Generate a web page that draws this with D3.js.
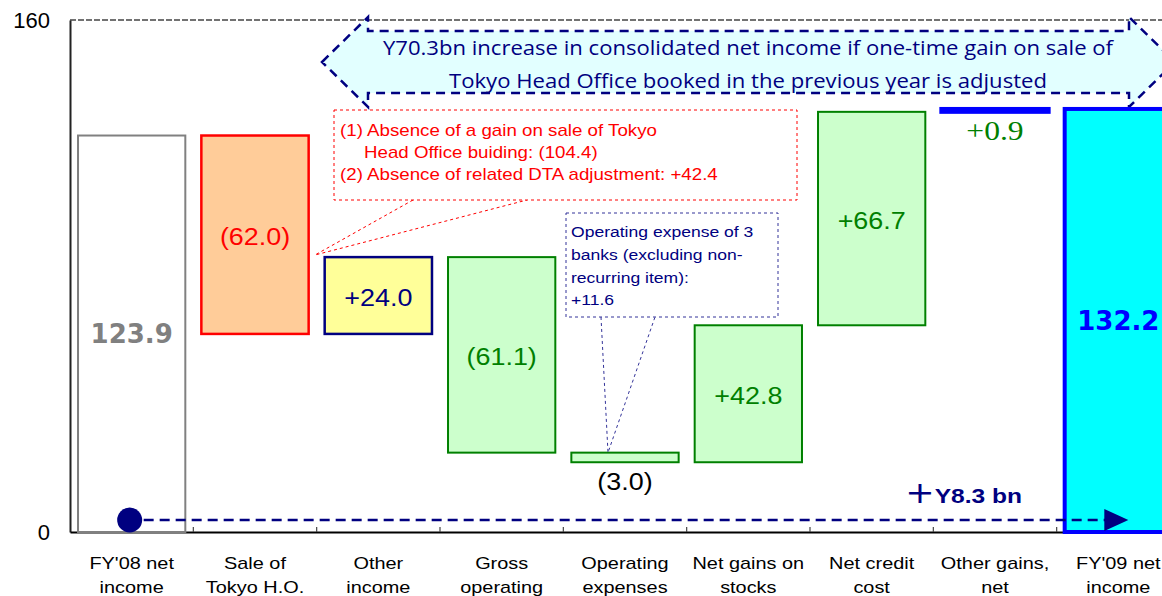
<!DOCTYPE html>
<html>
<head>
<meta charset="utf-8">
<script src="https://cdn.jsdelivr.net/npm/d3@7"></script>
<style>
  body { margin: 0; background: #fff; }
  svg { display: block; }
  text { font-family: "Liberation Sans", Arial, sans-serif; }
</style>
</head>
<body>
<div id="chart"></div>
<script>
// chart data
const categories = [
  ["FY'08 net", "income"],
  ["Sale of", "Tokyo H.O."],
  ["Other", "income"],
  ["Gross", "operating"],
  ["Operating", "expenses"],
  ["Net gains on", "stocks"],
  ["Net credit", "cost"],
  ["Other gains,", "net"],
  ["FY'09 net", "income"]
];
const changes = [123.9, -62.0, 24.0, -61.1, -3.0, 42.8, 66.7, 0.9, 132.2];
const isTotal = [true, false, false, false, false, false, false, false, true];
const valueLabels = ["123.9", "(62.0)", "+24.0", "(61.1)", "(3.0)", "+42.8", "+66.7", "+0.9", "132.2"];
const yTicks = [0, 160];

const arrowNote = [
  "Y70.3bn increase in consolidated net income if one-time gain on sale of",
  "Tokyo Head Office booked in the previous year is adjusted"
];
const redNote = [
  "(1) Absence of a gain on sale of Tokyo",
  "Head Office buiding: (104.4)",
  "(2) Absence of related DTA adjustment: +42.4"
];
const blueNote = ["Operating expense of 3", "banks (excluding non-", "recurring item):", "+11.6"];
const netChange = "Y8.3 bn";

let width = 1162,
  height = 596,
  SX = 1.17; // the original text is a bit wide, stretch it

// how each bar looks
const looks = [
  { fill: '#ffffff', stroke: '#808080', sw: 2, color: '#808080', kind: 'total' },
  { fill: '#FFCC99', stroke: '#FF0000', sw: 2.5, color: '#FF0000' },
  { fill: '#FFFF99', stroke: '#000080', sw: 2.5, color: '#000080' },
  { fill: '#CCFFCC', stroke: '#008000', sw: 2, color: '#008000' },
  { fill: '#CCFFCC', stroke: '#008000', sw: 2, color: '#000000', kind: 'below' },
  { fill: '#CCFFCC', stroke: '#008000', sw: 2, color: '#008000' },
  { fill: '#CCFFCC', stroke: '#008000', sw: 2, color: '#008000' },
  { fill: '#0000FF', stroke: '#0000FF', sw: 4, color: '#008000', kind: 'serif' },
  { fill: '#00FFFF', stroke: '#0000FF', sw: 4, color: '#0000FF', kind: 'total' }
];

// running totals -> bar ends
let run = 0;
let bars = changes.map(function (v, i) {
  if (isTotal[i]) {
    run = v;
    return { i: i, lo: 0, hi: v };
  }
  let start = run;
  run += v;
  return { i: i, lo: Math.min(start, run), hi: Math.max(start, run) };
});

let svg = d3.select('#chart')
  .append('svg')
  .attr('width', width)
  .attr('height', height);

let x = d3.scaleBand()
  .domain(d3.range(categories.length))
  .range([70, 1180])
  .paddingInner(0.13)
  .paddingOuter(0.065);

let y = d3.scaleLinear().domain([0, 160]).range([532, 20]);

//helper for stretched text
function stretched(parent, px, py, lines, opt) {
  let t = parent.append('text')
    .attr('transform', 'translate(' + px + ',' + py + ') scale(' + (opt.sx || SX) + ',1)')
    .attr('text-anchor', opt.anchor || 'middle')
    .style('font-size', opt.size + 'px')
    .style('fill', opt.color || '#000');
  if (opt.family) t.style('font-family', opt.family);
  if (opt.weight) t.style('font-weight', opt.weight);
  lines.forEach(function (line, k) {
    t.append('tspan')
      .attr('x', (opt.indent && opt.indent[k]) ? opt.indent[k] / (opt.sx || SX) : 0)
      .attr('y', k * (opt.lh || 0))
      .attr('dy', '0.35em')
      .text(line);
  });
  return t;
}

// top border
svg.append('line')
  .attr('x1', 70).attr('x2', 1180)
  .attr('y1', y(160)).attr('y2', y(160))
  .attr('stroke', '#444')
  .attr('stroke-width', 1.5)
  .attr('stroke-dasharray', '6,2');

// y axis, only 0 and 160
let yAxis = d3.axisLeft(y).tickValues(yTicks).tickSize(0).tickPadding(20).tickFormat(d3.format('d'));
let yG = svg.append('g')
  .attr('transform', 'translate(70,0)')
  .call(yAxis);
yG.select('.domain').attr('stroke', '#222').attr('stroke-width', 2);
yG.selectAll('text')
  .style('font-family', '"Liberation Sans", Arial, sans-serif')
  .style('font-size', '22px')
  .attr('fill', '#000');

// x axis baseline
let xAxis = d3.axisBottom(x).tickSize(0).tickSizeOuter(0).tickFormat('');
let xG = svg.append('g')
  .attr('transform', 'translate(0,' + y(0) + ')')
  .call(xAxis);
xG.select('.domain').attr('stroke', '#000').attr('stroke-width', 2);

// small ticks between categories
svg.selectAll('.sep')
  .data(d3.range(1, categories.length))
  .enter()
  .append('line')
  .attr('class', 'sep')
  .attr('x1', function (d) { return x.range()[0] + d * x.step(); })
  .attr('x2', function (d) { return x.range()[0] + d * x.step(); })
  .attr('y1', y(0) - 5)
  .attr('y2', y(0))
  .attr('stroke', '#444')
  .attr('stroke-width', 1.2);

// category labels
categories.forEach(function (lines, i) {
  stretched(svg, x(i) + x.bandwidth() / 2, 563, lines, { size: 17, lh: 24 });
});

// the big left-right arrow
let ax = [322, 368, 1129, 1175], ay = [17, 31, 62, 93, 107];
let arrowPath = d3.path();
arrowPath.moveTo(ax[0], ay[2]);
arrowPath.lineTo(ax[1], ay[0]);
arrowPath.lineTo(ax[1], ay[1]);
arrowPath.lineTo(ax[2], ay[1]);
arrowPath.lineTo(ax[2], ay[0]);
arrowPath.lineTo(ax[3], ay[2]);
arrowPath.lineTo(ax[2], ay[4]);
arrowPath.lineTo(ax[2], ay[3]);
arrowPath.lineTo(ax[1], ay[3]);
arrowPath.lineTo(ax[1], ay[4]);
arrowPath.closePath();
svg.append('path')
  .attr('d', arrowPath.toString())
  .attr('fill', '#E2FFFF')
  .attr('stroke', '#000080')
  .attr('stroke-width', 2.5)
  .attr('stroke-dasharray', '9,6');

arrowNote.forEach(function (line, k) {
  svg.append('text')
    .attr('x', 748)
    .attr('y', 48 + k * 33)
    .attr('dy', '0.35em')
    .attr('text-anchor', 'middle')
    .attr('textLength', k === 0 ? 730 : 598)
    .attr('lengthAdjust', 'spacingAndGlyphs')
    .style('font-family', '"Open Sans", sans-serif')
    .style('font-size', '20px')
    .style('fill', '#000080')
    .text(line);
});

// bars
svg.selectAll('.bar')
  .data(bars)
  .enter()
  .append('rect')
  .attr('class', 'bar')
  .attr('x', function (d) { return x(d.i); })
  .attr('y', function (d) { return y(d.hi); })
  .attr('width', x.bandwidth())
  .attr('height', function (d) { return y(d.lo) - y(d.hi); })
  .attr('fill', function (d) { return looks[d.i].fill; })
  .attr('stroke', function (d) { return looks[d.i].stroke; })
  .attr('stroke-width', function (d) { return looks[d.i].sw; });

// value labels
bars.forEach(function (d) {
  let look = looks[d.i];
  let cx = x(d.i) + x.bandwidth() / 2;
  if (look.kind === 'total') {
    stretched(svg, cx, y((d.lo + d.hi) / 2), [valueLabels[d.i]], {
      size: 26, sx: 1, color: look.color, weight: 'bold', family: '"DejaVu Sans", sans-serif'
    });
  } else if (look.kind === 'below') {
    stretched(svg, cx, y(d.lo) + 20, [valueLabels[d.i]], { size: 23, color: look.color });
  } else if (look.kind === 'serif') {
    stretched(svg, cx, y(d.lo) + 19, [valueLabels[d.i]], {
      size: 27, color: look.color, family: '"Liberation Serif", "DejaVu Serif", serif'
    });
  } else {
    stretched(svg, cx, y((d.lo + d.hi) / 2) + 2, [valueLabels[d.i]], { size: 23, color: look.color });
  }
});

// red callout
svg.append('path')
  .attr('d', 'M413,200L315,255L527,200')
  .attr('fill', 'none')
  .attr('stroke', '#FF0000')
  .attr('stroke-width', 1)
  .attr('stroke-dasharray', '3,3');
svg.append('rect')
  .attr('x', 334).attr('y', 110)
  .attr('width', 463).attr('height', 90)
  .attr('fill', '#fff')
  .attr('stroke', '#FF0000')
  .attr('stroke-width', 1)
  .attr('stroke-dasharray', '3,3');
stretched(svg, 340, 130, redNote, { size: 16, lh: 22, anchor: 'start', color: '#FF0000', indent: [0, 24, 0] });

// blue callout
let opTop = y(bars[4].hi);
svg.append('path')
  .attr('d', 'M601,317L608,' + opTop + 'L655,317')
  .attr('fill', 'none')
  .attr('stroke', '#333399')
  .attr('stroke-width', 1)
  .attr('stroke-dasharray', '3,3');
svg.append('rect')
  .attr('x', 566).attr('y', 213)
  .attr('width', 212).attr('height', 104)
  .attr('fill', '#fff')
  .attr('stroke', '#333399')
  .attr('stroke-width', 1)
  .attr('stroke-dasharray', '3,3');
stretched(svg, 571, 232, blueNote, { size: 15, lh: 22.7, anchor: 'start', color: '#000080' });

// net change line from FY'08 to FY'09
let lineLevel = 3.75;
let x0 = x(0) + x.bandwidth() / 2 - 2;
let x1 = x(categories.length - 1) + x.bandwidth() / 2 + 10;
svg.append('line')
  .attr('x1', x0 + 14).attr('x2', x1 - 22)
  .attr('y1', y(lineLevel)).attr('y2', y(lineLevel))
  .attr('stroke', '#000080')
  .attr('stroke-width', 2.5)
  .attr('stroke-dasharray', '10,6');
svg.append('circle')
  .attr('cx', x0).attr('cy', y(lineLevel))
  .attr('r', 12.5)
  .attr('fill', '#000080');
svg.append('path')
  .attr('d', 'M' + (x1 - 24) + ',' + (y(lineLevel) - 11) + 'L' + x1 + ',' + y(lineLevel) + 'L' + (x1 - 24) + ',' + (y(lineLevel) + 11) + 'Z')
  .attr('fill', '#000080');

let nc = svg.append('text')
  .attr('transform', 'translate(1022,497) scale(' + SX + ',1)')
  .attr('text-anchor', 'end')
  .attr('dy', '0.35em')
  .style('fill', '#000080');
nc.append('tspan').style('font-size', '30px').style('font-family', '"DejaVu Sans", sans-serif').text('+');
nc.append('tspan').style('font-size', '21px').style('font-weight', 'bold').text(netChange);
</script>
</body>
</html>
